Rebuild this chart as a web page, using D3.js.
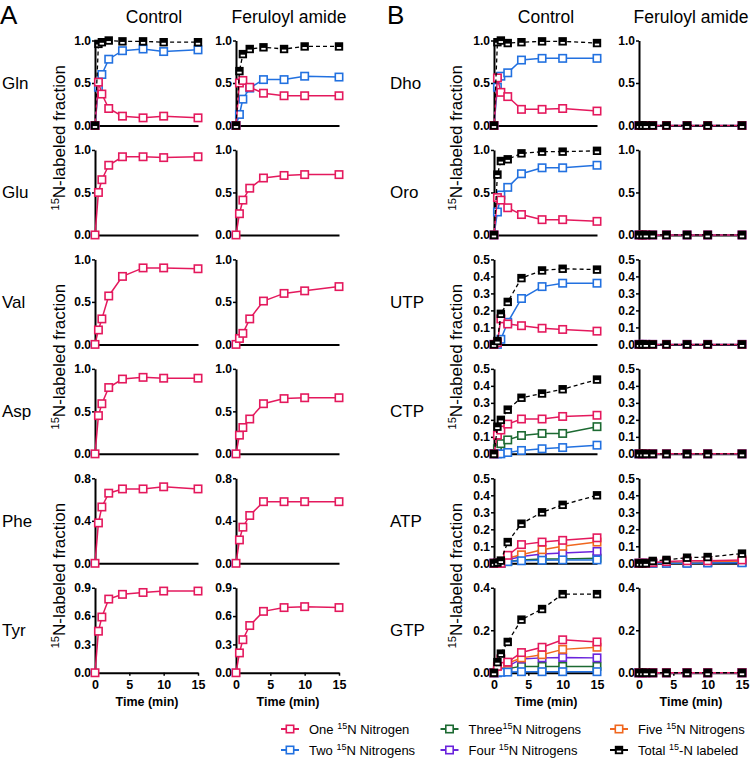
<!DOCTYPE html>
<html><head><meta charset="utf-8">
<script src="https://cdn.jsdelivr.net/npm/d3@7"></script>
<style>
body{margin:0;background:#fff}
svg{display:block}
text{font-family:"Liberation Sans",Arial,Helvetica,sans-serif}
</style>
</head><body>
<svg id="chart" width="750" height="758"></svg>
<script>
// ---------- DATA ----------
const timeMin = [0, 0.5, 1, 2, 4, 7, 10, 15];
const xTickValues = [0, 5, 10, 15];
const columnTitles = ["Control", "Feruloyl amide", "Control", "Feruloyl amide"];
const panelLetters = ["A", "B"];
const metabolitesA = ["Gln", "Glu", "Val", "Asp", "Phe", "Tyr"];
const metabolitesB = ["Dho", "Oro", "UTP", "CTP", "ATP", "GTP"];
const yMaxA = [1, 1, 1, 1, 0.8, 0.9];
const yMaxB = [1, 1, 0.5, 0.5, 0.5, 0.4];
const yTicksA = [[0, 0.5, 1], [0, 0.5, 1], [0, 0.5, 1], [0, 0.5, 1], [0, 0.4, 0.8], [0, 0.3, 0.6, 0.9]];
const yTicksB = [[0, 0.5, 1], [0, 0.5, 1], [0, 0.1, 0.2, 0.3, 0.4, 0.5], [0, 0.1, 0.2, 0.3, 0.4, 0.5], [0, 0.1, 0.2, 0.3, 0.4, 0.5], [0, 0.2, 0.4]];
const seriesKeys = ["one", "two", "three", "four", "five", "total"];
const legendLabels = [
  ["One ", "15", "N Nitrogen"],
  ["Two ", "15", "N Nitrogens"],
  ["Three", "15", "N Nitrogens"],
  ["Four ", "15", "N Nitrogens"],
  ["Five ", "15", "N Nitrogens"],
  ["Total ", "15", "-N labeled"]
];

// Panel A
const glnCtrlOne   = [0, 0.51, 0.37, 0.20, 0.11, 0.09, 0.11, 0.09];
const glnCtrlTwo   = [0, 0.45, 0.60, 0.78, 0.88, 0.90, 0.87, 0.89];
const glnCtrlTotal = [0, 0.96, 0.98, 1.00, 0.99, 0.99, 0.98, 0.98];
const glnFerOne    = [0, 0.50, 0.53, 0.45, 0.38, 0.35, 0.35, 0.35];
const glnFerTwo    = [0, 0.13, 0.31, 0.44, 0.54, 0.54, 0.58, 0.57];
const glnFerTotal  = [0, 0.64, 0.84, 0.90, 0.92, 0.90, 0.93, 0.93];
const gluCtrlOne   = [0, 0.50, 0.65, 0.82, 0.92, 0.92, 0.91, 0.92];
const gluFerOne    = [0, 0.25, 0.41, 0.55, 0.67, 0.70, 0.71, 0.71];
const valCtrlOne   = [0, 0.17, 0.30, 0.57, 0.80, 0.90, 0.90, 0.89];
const valFerOne    = [0, 0.07, 0.13, 0.30, 0.51, 0.60, 0.63, 0.68];
const aspCtrlOne   = [0, 0.45, 0.59, 0.78, 0.88, 0.90, 0.89, 0.89];
const aspFerOne    = [0, 0.22, 0.31, 0.41, 0.59, 0.65, 0.66, 0.66];
const pheCtrlOne   = [0, 0.38, 0.53, 0.66, 0.70, 0.70, 0.72, 0.70];
const pheFerOne    = [0, 0.22, 0.34, 0.45, 0.58, 0.58, 0.58, 0.58];
const tyrCtrlOne   = [0, 0.44, 0.59, 0.78, 0.83, 0.85, 0.865, 0.865];
const tyrFerOne    = [0, 0.21, 0.35, 0.50, 0.65, 0.69, 0.70, 0.69];

// Panel B
const dhoCtrlOne   = [0, 0.56, 0.39, 0.34, 0.19, 0.19, 0.20, 0.17];
const dhoCtrlTwo   = [0, 0.45, 0.58, 0.62, 0.77, 0.79, 0.79, 0.79];
const dhoCtrlTotal = [0, 0.98, 1.00, 0.97, 0.98, 0.99, 0.99, 0.97];
const oroCtrlOne   = [0, 0.44, 0.41, 0.32, 0.24, 0.18, 0.18, 0.16];
const oroCtrlTwo   = [0, 0.27, 0.47, 0.56, 0.72, 0.79, 0.79, 0.82];
const oroCtrlTotal = [0, 0.71, 0.87, 0.89, 0.96, 0.98, 0.98, 0.99];
const utpCtrlOne   = [0, 0.01, 0.15, 0.12, 0.11, 0.095, 0.088, 0.078];
const utpCtrlTwo   = [0, 0.00, 0.03, 0.13, 0.27, 0.34, 0.36, 0.36];
const utpCtrlTotal = [0, 0.02, 0.18, 0.25, 0.39, 0.435, 0.445, 0.44];
const ctpCtrlOne   = [0, 0.11, 0.14, 0.175, 0.205, 0.205, 0.22, 0.227];
const ctpCtrlTwo   = [0, 0, 0, 0.008, 0.02, 0.03, 0.037, 0.051];
const ctpCtrlThree = [0, 0.03, 0.06, 0.082, 0.108, 0.12, 0.12, 0.16];
const ctpCtrlTotal = [0, 0.16, 0.20, 0.26, 0.33, 0.355, 0.38, 0.437];
const atpCtrlOne   = [0, 0, 0, 0.047, 0.11, 0.125, 0.135, 0.15];
const atpCtrlTwo   = [0, 0, 0, 0.01, 0.015, 0.018, 0.02, 0.02];
const atpCtrlThree = [0, 0, 0, 0.01, 0.02, 0.025, 0.025, 0.03];
const atpCtrlFour  = [0, 0, 0, 0.02, 0.04, 0.055, 0.06, 0.07];
const atpCtrlFive  = [0, 0, 0, 0.03, 0.05, 0.08, 0.10, 0.125];
const atpCtrlTotal = [0, 0.004, 0.016, 0.125, 0.233, 0.30, 0.344, 0.40];
const atpFerOne    = [0, 0, 0, 0.005, 0.01, 0.015, 0.015, 0.02];
const atpFerTwo    = [0, 0, 0, 0, 0, 0, 0.002, 0.003];
const atpFerThree  = [0, 0, 0, 0, 0.002, 0.003, 0.005, 0.008];
const atpFerFour   = [0, 0, 0, 0, 0.002, 0.003, 0.004, 0.006];
const atpFerFive   = [0, 0, 0, 0, 0.003, 0.005, 0.008, 0.012];
const atpFerTotal  = [0, 0, 0, 0.014, 0.02, 0.033, 0.037, 0.057];
const gtpCtrlOne   = [0, 0.03, 0.065, 0.05, 0.095, 0.12, 0.155, 0.145];
const gtpCtrlTwo   = [0, 0, 0.002, 0.003, 0.005, 0.005, 0.005, 0.005];
const gtpCtrlThree = [0, 0.005, 0.01, 0.02, 0.03, 0.03, 0.03, 0.03];
const gtpCtrlFour  = [0, 0.01, 0.02, 0.03, 0.065, 0.07, 0.072, 0.07];
const gtpCtrlFive  = [0, 0.02, 0.04, 0.045, 0.07, 0.085, 0.11, 0.12];
const gtpCtrlTotal = [0, 0.05, 0.09, 0.145, 0.25, 0.30, 0.37, 0.37];
const zeroSeries   = [0, 0, 0, 0, 0, 0, 0, 0];

// ---------- STYLE / LAYOUT ----------
const colors = { one: "#e4195d", two: "#2271e0", three: "#1c6a32", four: "#6a24dc", five: "#f0671f", total: "#000000" };
const drawOrder = ["three", "four", "five", "two", "one", "total"];
const colRanges = [[95, 198], [236, 339], [494, 597], [639, 742]];
const rowTop = i => 40.5 + i * 109.45;
const rowH = 85;

// panels table built from data arrays
const panels = [];
function addPanel(col, row, yMax, ticks, series) { panels.push({ col, row, yMax, ticks, series }); }
const aCtrl = [
  { one: glnCtrlOne, two: glnCtrlTwo, total: glnCtrlTotal },
  { one: gluCtrlOne }, { one: valCtrlOne }, { one: aspCtrlOne }, { one: pheCtrlOne }, { one: tyrCtrlOne }
];
const aFer = [
  { one: glnFerOne, two: glnFerTwo, total: glnFerTotal },
  { one: gluFerOne }, { one: valFerOne }, { one: aspFerOne }, { one: pheFerOne }, { one: tyrFerOne }
];
const bCtrl = [
  { one: dhoCtrlOne, two: dhoCtrlTwo, total: dhoCtrlTotal },
  { one: oroCtrlOne, two: oroCtrlTwo, total: oroCtrlTotal },
  { one: utpCtrlOne, two: utpCtrlTwo, total: utpCtrlTotal },
  { one: ctpCtrlOne, two: ctpCtrlTwo, three: ctpCtrlThree, total: ctpCtrlTotal },
  { one: atpCtrlOne, two: atpCtrlTwo, three: atpCtrlThree, four: atpCtrlFour, five: atpCtrlFive, total: atpCtrlTotal },
  { one: gtpCtrlOne, two: gtpCtrlTwo, three: gtpCtrlThree, four: gtpCtrlFour, five: gtpCtrlFive, total: gtpCtrlTotal }
];
const bFer = [
  { one: zeroSeries, two: zeroSeries, total: zeroSeries },
  { one: zeroSeries, two: zeroSeries, total: zeroSeries },
  { one: zeroSeries, two: zeroSeries, total: zeroSeries },
  { one: zeroSeries, two: zeroSeries, three: zeroSeries, total: zeroSeries },
  { one: atpFerOne, two: atpFerTwo, three: atpFerThree, four: atpFerFour, five: atpFerFive, total: atpFerTotal },
  { one: zeroSeries, two: zeroSeries, three: zeroSeries, four: zeroSeries, five: zeroSeries, total: zeroSeries }
];
for (let r = 0; r < 6; r++) {
  addPanel(0, r, yMaxA[r], yTicksA[r], aCtrl[r]);
  addPanel(1, r, yMaxA[r], yTicksA[r], aFer[r]);
  addPanel(2, r, yMaxB[r], yTicksB[r], bCtrl[r]);
  addPanel(3, r, yMaxB[r], yTicksB[r], bFer[r]);
}

// ---------- DRAW ----------
const svg = d3.select("#chart");
svg.append("rect").attr("width", 750).attr("height", 758).attr("fill", "#fff");

function drawMarker(g, key, cx, cy) {
  const s = 7.4;
  if (key === "total") {
    g.append("rect").attr("x", cx - s / 2 - 0.5).attr("y", cy - s / 2 - 0.5).attr("width", s + 1).attr("height", s + 1).attr("fill", "#000");
    g.append("rect").attr("x", cx - 2.2).attr("y", cy + 0.6).attr("width", 4.4).attr("height", 1.8).attr("fill", "#fff");
  } else {
    g.append("rect").attr("x", cx - s / 2).attr("y", cy - s / 2).attr("width", s).attr("height", s)
      .attr("fill", "#fff").attr("stroke", colors[key]).attr("stroke-width", 1.6);
  }
}

panels.forEach(p => {
  const top = rowTop(p.row), bottom = top + rowH;
  const x = d3.scaleLinear().domain([0, 15]).range(colRanges[p.col]);
  const y = d3.scaleLinear().domain([0, p.yMax]).range([bottom, top]);
  const g = svg.append("g");

  // axes
  const isBottom = p.row === 5;
  const xAxis = d3.axisBottom(x).tickValues(isBottom ? xTickValues : []).tickSize(3).tickPadding(4).tickSizeOuter(0).tickFormat(d3.format("d"));
  const gx = g.append("g").attr("transform", `translate(0,${y(0)})`).call(xAxis);
  gx.select(".domain").attr("stroke-width", 2);
  gx.selectAll(".tick line").attr("stroke-width", 1.5);
  gx.selectAll("text").attr("font-size", 12.5).attr("font-weight", "bold").attr("font-family", "Liberation Sans, Arial, sans-serif");

  const yAxis = d3.axisLeft(y).tickValues(p.ticks).tickSize(3).tickPadding(1).tickSizeOuter(0).tickFormat(d3.format(".1f"));
  const gy = g.append("g").attr("transform", `translate(${x(0)},0)`).call(yAxis);
  gy.select(".domain").attr("stroke-width", 2);
  gy.selectAll(".tick line").attr("stroke-width", 1.5);
  gy.selectAll("text").attr("font-size", 12).attr("font-weight", "bold").attr("font-family", "Liberation Sans, Arial, sans-serif");

  if (isBottom) {
    g.append("text").attr("x", (colRanges[p.col][0] + colRanges[p.col][1]) / 2 + 0.5).attr("y", y(0) + 33)
      .attr("text-anchor", "middle").attr("font-size", 12.5).attr("font-weight", "bold").text("Time (min)");
  }

  const line = d3.line().x((d, i) => x(timeMin[i])).y(d => y(d));
  drawOrder.forEach(key => {
    const vals = p.series[key];
    if (!vals) return;
    g.append("path").datum(vals).attr("d", line).attr("fill", "none")
      .attr("stroke", colors[key]).attr("stroke-width", key === "total" ? 1.3 : 1.5)
      .attr("stroke-dasharray", key === "total" ? "4,3" : null);
    const mg = g.append("g");
    vals.forEach((v, i) => drawMarker(mg, key, x(timeMin[i]), y(v)));
  });
});

// Row labels
metabolitesA.forEach((m, i) => {
  svg.append("text").attr("x", 2).attr("y", rowTop(i) + rowH / 2 + 6).attr("font-size", 17).text(m);
});
metabolitesB.forEach((m, i) => {
  svg.append("text").attr("x", 390).attr("y", rowTop(i) + rowH / 2 + 6).attr("font-size", 17).text(m);
});

// Column titles
const titleX = [154, 289, 546, 691];
columnTitles.forEach((t, i) => {
  svg.append("text").attr("x", titleX[i]).attr("y", 23).attr("text-anchor", "middle").attr("font-size", 17.5).text(t);
});

// Panel letters
svg.append("text").attr("x", 0).attr("y", 23.5).attr("font-size", 26).text(panelLetters[0]);
svg.append("text").attr("x", 387).attr("y", 23.5).attr("font-size", 26).text(panelLetters[1]);

// Y axis titles
[65, 462].forEach(bx => {
  [0, 2, 4].forEach(r => {
    const cy = (rowTop(r) + rowTop(r + 1) + rowH) / 2;
    const t = svg.append("text").attr("transform", `translate(${bx},${cy}) rotate(-90)`).attr("text-anchor", "middle").attr("font-size", 17);
    t.append("tspan").attr("font-size", 11).attr("dy", -6).text("15");
    t.append("tspan").attr("dy", 6).text("N-labeled fraction");
  });
});

// Legend
const legendPos = [[290, 729], [290, 750], [449.5, 729], [449.5, 750], [619, 729], [619, 750]];
seriesKeys.forEach((key, i) => {
  const [cx, cy] = legendPos[i];
  const lg = svg.append("g");
  lg.append("line").attr("x1", cx - 9).attr("x2", cx + 9).attr("y1", cy).attr("y2", cy)
    .attr("stroke", colors[key]).attr("stroke-width", 2);
  drawMarker(lg, key, cx, cy);
  const lab = legendLabels[i];
  const t = lg.append("text").attr("x", cx + 19).attr("y", cy + 5).attr("font-size", 13);
  t.append("tspan").text(lab[0]);
  t.append("tspan").attr("font-size", 9).attr("dy", -5).text(lab[1]);
  t.append("tspan").attr("dy", 5).text(lab[2]);
});
</script>
</body></html>
